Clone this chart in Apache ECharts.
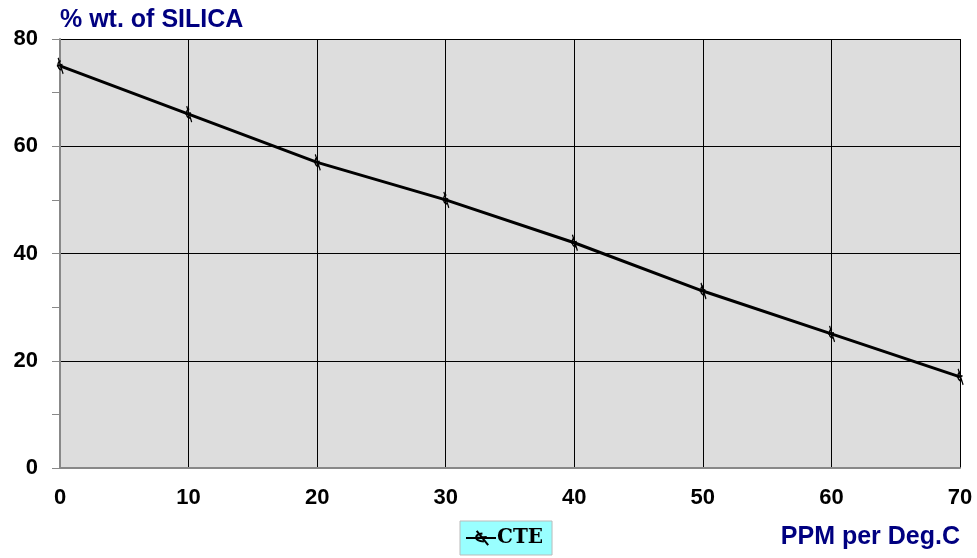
<!DOCTYPE html>
<html><head><meta charset="utf-8">
<script src="https://cdn.jsdelivr.net/npm/echarts@6/dist/echarts.min.js"></script>
<style>html,body{margin:0;padding:0;background:#fff}#c{width:977px;height:558px}</style>
</head><body><div id="c"></div>
<script>
const xValues = [0, 10, 20, 30, 40, 50, 60, 70];
const cteValues = [75, 66, 57, 50, 42, 33, 25, 17];
const seriesName = 'CTE';
const yTitle = '% wt. of SILICA';
const xTitle = 'PPM per Deg.C';

const chart = echarts.init(document.getElementById('c'));
const markerPath = 'path://M2,0 L10,16 M6,3 C0,4 0,11 7,12 M0,8 L9,7';
chart.setOption({
  animation: false,
  backgroundColor: '#fff',
  grid: {left: 60, right: 17, top: 39, bottom: 90, backgroundColor: '#DDDDDD', show: true, borderWidth: 0},
  title: [
    {text: yTitle, left: 55, top: 3, textStyle: {color: '#000080', fontFamily: 'Liberation Sans, Arial', fontWeight: 'bold', fontSize: 25}},
    {text: xTitle, right: 12, top: 520, textStyle: {color: '#000080', fontFamily: 'Liberation Sans, Arial', fontWeight: 'bold', fontSize: 25}}
  ],
  legend: {
    data: [seriesName], left: 460, top: 521, width: 95, height: 36,
    backgroundColor: '#99FFFF', borderColor: '#BBBBBB', borderWidth: 1,
    padding: [7, 9, 7, 5], itemWidth: 30, itemHeight: 18, itemGap: 2,
    textStyle: {fontFamily: 'DejaVu Serif', fontWeight: 'bold', fontSize: 20, color: '#000', padding: [0, 0, 0, -4]}
  },
  xAxis: {
    type: 'value', min: 0, max: 70, interval: 10,
    axisLine: {show: true, onZero: false, lineStyle: {color: '#888', width: 2}},
    axisTick: {show: false},
    axisLabel: {margin: 19, color: '#000', fontFamily: 'Liberation Sans, Arial', fontWeight: 'bold', fontSize: 22},
    splitLine: {show: true, lineStyle: {color: '#000', width: 1}}
  },
  yAxis: {
    type: 'value', min: 0, max: 80, interval: 20,
    axisLine: {show: true, lineStyle: {color: '#888', width: 2}},
    axisTick: {show: true, length: 8, lineStyle: {color: '#888'}},
    minorTick: {show: true, splitNumber: 2, length: 8, lineStyle: {color: '#888'}},
    axisLabel: {margin: 22, color: '#000', fontFamily: 'Liberation Sans, Arial', fontWeight: 'bold', fontSize: 22},
    splitLine: {show: true, lineStyle: {color: '#000', width: 1}}
  },
  series: [{
    name: seriesName, type: 'line',
    data: xValues.map((x, i) => [x, cteValues[i]]),
    symbol: markerPath, symbolSize: [10, 16], symbolKeepAspect: true,
    itemStyle: {color: 'none', borderColor: '#000', borderWidth: 1.5},
    lineStyle: {color: '#000', width: 3},
    clip: false
  }]
});
</script></body></html>
